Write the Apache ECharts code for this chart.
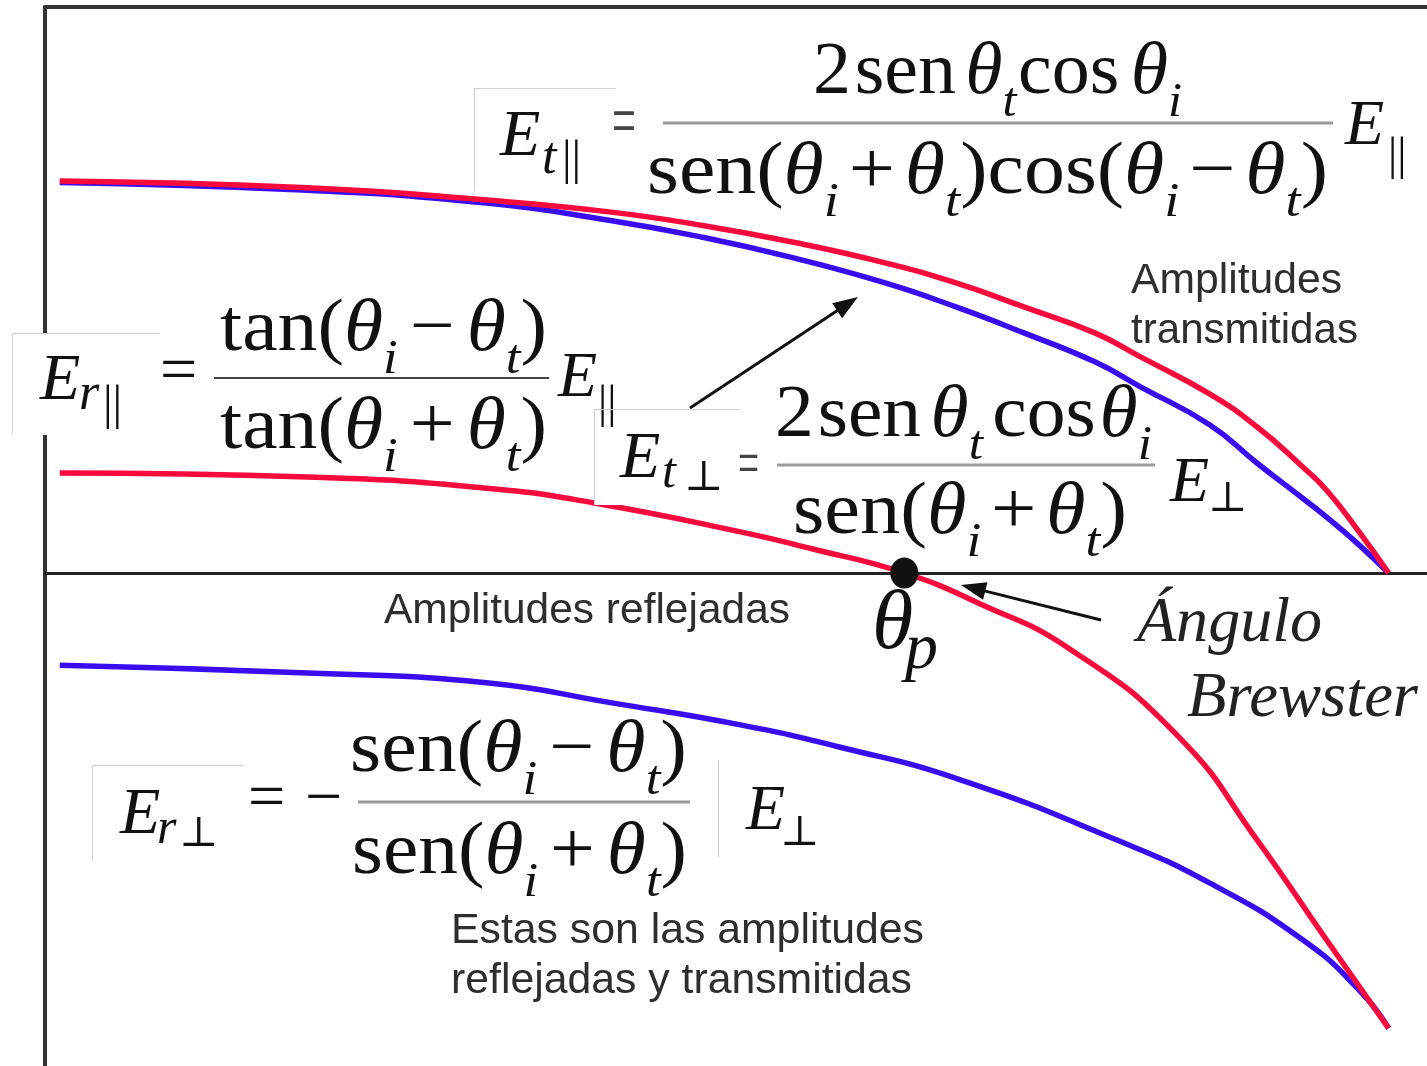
<!DOCTYPE html>
<html>
<head>
<meta charset="utf-8">
<script src="https://cdn.jsdelivr.net/npm/echarts@6/dist/echarts.min.js"></script>
<style>
  html, body { margin: 0; padding: 0; background: #fff; }
  #chart { width: 1427px; height: 1066px; }
</style>
</head>
<body>
<div id="chart"></div>
<script>
// Fresnel amplitude coefficients against the angle of incidence (degrees).
// Transmitted, parallel polarisation
const tParAngles = [0, 16.8, 28.9, 37.2, 43.4, 49.7, 55.9, 60.7, 65.3, 70.1, 73.2, 77.9, 81.1, 84.2, 85.8, 87.9, 90];
const tParValues = [0.800, 0.786, 0.761, 0.737, 0.710, 0.675, 0.633, 0.592, 0.543, 0.490, 0.441, 0.365, 0.298, 0.216, 0.169, 0.088, 0];
// Transmitted, perpendicular polarisation
const tPerpAngles = [0, 16.8, 28.9, 37.2, 43.4, 49.7, 55.9, 60.7, 65.3, 70.1, 73.2, 77.9, 81.1, 84.2, 85.8, 87.9, 90];
const tPerpValues = [0.797, 0.781, 0.755, 0.720, 0.686, 0.643, 0.592, 0.543, 0.490, 0.431, 0.380, 0.302, 0.224, 0.152, 0.114, 0.060, 0];
// Reflected, parallel polarisation (crosses zero at the Brewster angle)
const rParAngles = [0, 16.8, 28.9, 36.2, 46.1, 51.0, 57.2, 62.2, 68.5, 75.8, 81.1, 85.8, 90];
const rParValues = [0.204, 0.196, 0.173, 0.143, 0.084, 0.049, 0, -0.061, -0.157, -0.335, -0.545, -0.749, -0.929];
// Reflected, perpendicular polarisation
const rPerpAngles = [0, 16.8, 28.9, 37.4, 46.1, 52.8, 61.0, 71.6, 77.9, 84.2, 88.0, 90];
const rPerpValues = [-0.188, -0.204, -0.224, -0.265, -0.310, -0.355, -0.422, -0.545, -0.633, -0.749, -0.851, -0.929];
// Brewster angle
const brewsterAngle = 57.2;

const RED = '#fa0a3c';
const BLUE = '#3a0cf2';
const SERIF = '"Liberation Serif", "DejaVu Serif", serif';
const SANS = '"Liberation Sans", Arial, sans-serif';
const measure = document.createElement('canvas').getContext('2d');

const pairs = (a, v) => a.map((x, i) => [x, v[i]]);

const graphics = [];

function fontOf(size, italic, family) {
  return (italic ? 'italic ' : '') + size + 'px ' + (family || SERIF);
}

// place one run of text by its left edge and baseline
function txt(text, x, base, size, o) {
  o = o || {};
  graphics.push({
    type: 'text', x: x, y: base - 0.32 * size, z: 100,
    scaleX: o.sx || 1, scaleY: o.sy || 1,
    style: {
      text: text, font: fontOf(size, o.italic, o.family),
      fill: o.fill || '#111', align: 'left', verticalAlign: 'middle'
    }
  });
}

// lay out a run of tokens (main / subscript, roman / italic) between x0 and x1
function formula(tokens, x0, x1, base, size, o) {
  o = o || {};
  const subSize = Math.round(size * 0.66), drop = size * 0.3;
  let w = 0;
  const parts = [];
  tokens.forEach(tk => {
    if (typeof tk === 'number') { w += tk * size; return; }
    const t = tk[0], kind = tk[1];
    const sub = kind[0] === 's', it = kind[kind.length - 1] === 'i';
    const fs = sub ? subSize : size;
    measure.font = fontOf(fs, it, o.family);
    parts.push({ t: t, it: it, fs: fs, x: w, base: base + (sub ? drop : 0) });
    w += measure.measureText(t).width;
  });
  const sx = (x1 - x0) / w;
  parts.forEach(p => txt(p.t, x0 + p.x * sx, p.base, p.fs,
    { italic: p.it, sx: sx, fill: o.fill, family: o.family }));
}

function fit(text, x0, x1, base, size, o) {
  formula([[text, o && o.italic ? 'i' : 'r']], x0, x1, base, size, o);
}

function hline(x1, x2, y, w, c) {
  graphics.push({ type: 'line', z: 100, shape: { x1: x1, y1: y, x2: x2, y2: y }, style: { stroke: c, lineWidth: w } });
}
function vline(x, y1, y2, w, c) {
  graphics.push({ type: 'line', z: 100, shape: { x1: x, y1: y1, x2: x, y2: y2 }, style: { stroke: c, lineWidth: w } });
}
function box(x, y, w, h) {
  graphics.push({ type: 'rect', z: 99, shape: { x: x, y: y, width: w, height: h }, style: { fill: '#fff' } });
  hline(x, x + w, y + 0.5, 1, '#cfcfcf');
  vline(x + 0.5, y, y + h, 1, '#cfcfcf');
}
function arrow(x1, y1, x2, y2) {
  const dx = x2 - x1, dy = y2 - y1, L = Math.hypot(dx, dy);
  const ux = dx / L, uy = dy / L, len = 25, hw = 9;
  const bx = x2 - ux * len, by = y2 - uy * len;
  graphics.push({ type: 'line', z: 100, shape: { x1: x1, y1: y1, x2: bx + ux * 4, y2: by + uy * 4 },
    style: { stroke: '#111', lineWidth: 3 } });
  graphics.push({ type: 'polygon', z: 100,
    shape: { points: [[x2, y2], [bx - uy * hw, by + ux * hw], [bx + uy * hw, by - ux * hw]] },
    style: { fill: '#111' } });
}

// ---- E_t|| ----
box(474, 88, 142, 103);
txt('E', 500, 159, 66, { italic: true });
txt('t', 542, 176, 52, { italic: true });
txt('||', 562, 177, 48);
txt('=', 612, 141, 50, { sx: 0.85, sy: 1.5, fill: '#444' });
formula([['2', 'r'], 0.05, ['sen', 'r'], 0.12, ['θ', 'i'], ['t', 'si'], 0.02, ['cos', 'r'], 0.15, ['θ', 'i'], ['i', 'si']],
  813, 1182, 97, 74);
hline(663, 1333, 123, 3, '#9b9b9b');
formula([['sen(', 'r'], ['θ', 'i'], ['i', 'si'], 0.12, ['+', 'r'], 0.12, ['θ', 'i'], ['t', 'si'], [')', 'r'],
  ['cos(', 'r'], ['θ', 'i'], ['i', 'si'], 0.12, ['−', 'r'], 0.12, ['θ', 'i'], ['t', 'si'], [')', 'r']],
  647, 1328, 197, 74);
txt('E', 1345, 148, 64, { italic: true });
txt('||', 1388, 172, 46);

// ---- E_r|| ----
box(12, 333, 148, 102);
txt('E', 40, 403, 66, { italic: true });
txt('r', 79, 412, 52, { italic: true });
txt('||', 103, 422, 48);
txt('=', 160, 395, 66);
formula([['tan(', 'r'], ['θ', 'i'], ['i', 'si'], 0.15, ['−', 'r'], 0.15, ['θ', 'i'], ['t', 'si'], [')', 'r']],
  220, 547, 354, 74);
hline(214, 549, 378, 2, '#444');
formula([['tan(', 'r'], ['θ', 'i'], ['i', 'si'], 0.15, ['+', 'r'], 0.15, ['θ', 'i'], ['t', 'si'], [')', 'r']],
  220, 547, 452, 74);
txt('E', 558, 400, 64, { italic: true });
txt('||', 598, 420, 46);

// ---- E_t⊥ ----
box(594, 409, 146, 96);
txt('E', 620, 481, 66, { italic: true });
txt('t', 662, 490, 50, { italic: true });
txt('⊥', 684, 492, 42);
txt('=', 738, 482, 44, { sx: 0.85, sy: 1.5, fill: '#444' });
formula([['2', 'r'], 0.05, ['sen', 'r'], 0.12, ['θ', 'i'], ['t', 'si'], 0.12, ['cos', 'r'], 0.05, ['θ', 'i'], ['i', 'si']],
  775, 1152, 440, 74);
hline(777, 1155, 465, 3, '#9b9b9b');
formula([['sen(', 'r'], ['θ', 'i'], ['i', 'si'], 0.12, ['+', 'r'], 0.12, ['θ', 'i'], ['t', 'si'], [')', 'r']],
  793, 1127, 537, 74);
txt('E', 1170, 505, 64, { italic: true });
txt('⊥', 1208, 513, 42);

// ---- E_r⊥ ----
box(92, 765, 151, 95);
txt('E', 120, 837, 66, { italic: true });
txt('r', 157, 846, 50, { italic: true });
txt('⊥', 179, 848, 42);
txt('=', 248, 822, 66);
txt('−', 305, 822, 66);
formula([['sen(', 'r'], ['θ', 'i'], ['i', 'si'], 0.15, ['−', 'r'], 0.15, ['θ', 'i'], ['t', 'si'], [')', 'r']],
  350, 687, 775, 74);
hline(358, 690, 802, 3, '#9b9b9b');
formula([['sen(', 'r'], ['θ', 'i'], ['i', 'si'], 0.15, ['+', 'r'], 0.15, ['θ', 'i'], ['t', 'si'], [')', 'r']],
  352, 687, 877, 74);
vline(718.5, 760, 857, 1, '#cfcfcf');
txt('E', 746, 833, 64, { italic: true });
txt('⊥', 780, 847, 42);

// ---- captions ----
const cap = { family: SANS, fill: '#2e2e2e' };
fit('Amplitudes', 1131, 1342, 295, 42, cap);
fit('transmitidas', 1131, 1358, 345, 42, cap);
fit('Amplitudes reflejadas', 384, 790, 625, 42, cap);
fit('Estas son las amplitudes', 451, 924, 945, 42, cap);
fit('reflejadas y transmitidas', 451, 912, 995, 42, cap);
fit('Ángulo', 1137, 1322, 645, 64, { italic: true, fill: '#222' });
fit('Brewster', 1187, 1418, 720, 64, { italic: true, fill: '#222' });
txt('θ', 872, 653, 84, { italic: true });
txt('p', 905, 672, 66, { italic: true });

arrow(690, 408, 858, 297);
arrow(1101, 620, 961, 585);

const hiddenAxis = { axisTick: { show: false }, axisLabel: { show: false }, splitLine: { show: false } };
const curve = (name, a, v, color, z) => ({
  name: name, type: 'line', data: pairs(a, v), symbol: 'none',
  smooth: 0.5,
  lineStyle: { color: color, width: 5.5 }, z: z
});

const chart = echarts.init(document.getElementById('chart'), null, { renderer: 'canvas' });
chart.setOption({
  animation: false,
  backgroundColor: '#fff',
  grid: { left: 45, right: 0, top: 7, bottom: 0 },
  xAxis: [
    Object.assign({ type: 'value', min: -1, max: 92.6,
      axisLine: { show: true, onZero: true, lineStyle: { color: '#222', width: 3 } } }, hiddenAxis),
    Object.assign({ type: 'value', min: -1, max: 92.6, position: 'top',
      axisLine: { show: true, onZero: false, lineStyle: { color: '#333', width: 4 } } }, hiddenAxis)
  ],
  yAxis: Object.assign({ type: 'value', min: -1.0061, max: 1.1551,
    axisLine: { show: true, onZero: false, lineStyle: { color: '#333', width: 4 } } }, hiddenAxis),
  series: [
    curve('Et⊥', tPerpAngles, tPerpValues, BLUE, 3),
    curve('Et||', tParAngles, tParValues, RED, 4),
    curve('Er⊥', rPerpAngles, rPerpValues, BLUE, 3),
    curve('Er||', rParAngles, rParValues, RED, 4),
    { name: 'θp', type: 'scatter', data: [[brewsterAngle, 0]], symbol: 'circle', symbolSize: [28, 31],
      itemStyle: { color: '#111', opacity: 1 }, z: 6 }
  ],
  graphic: graphics
});
</script>
</body>
</html>
